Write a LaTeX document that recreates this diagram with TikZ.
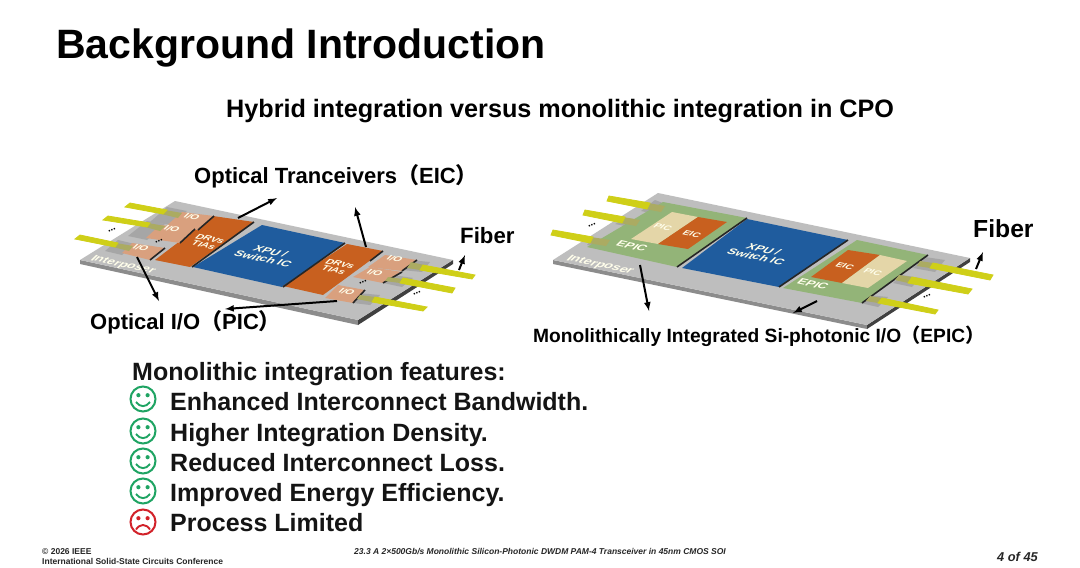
\documentclass[tikz,border=0pt]{standalone}
\usepackage{fontspec}
\setmainfont{Liberation Sans}
\newfontfamily\cjk{Noto Sans CJK SC}

\definecolor{plategray}{HTML}{BEBEBE}
\definecolor{platedark}{HTML}{8C8C8C}
\definecolor{blockgray}{HTML}{A6A6A6}
\definecolor{xpublue}{HTML}{1F5C9E}
\definecolor{drvorange}{HTML}{C8601F}
\definecolor{ioorange}{HTML}{D9A07E}
\definecolor{fiberyellow}{HTML}{CFCF18}
\definecolor{ferruleolive}{HTML}{ABAB62}
\definecolor{epicgreen}{HTML}{93B478}
\definecolor{picbeige}{HTML}{E4D6A8}
\definecolor{smilegreen}{HTML}{1FA463}
\definecolor{sadred}{HTML}{D2222A}

\begin{document}
\begin{tikzpicture}[>=latex,x=1pt,y=-1pt]

% --- Styles ---
\tikzset{
    plate/.style={fill=plategray},
    plateside/.style={fill=platedark},
    platefront/.style={fill=black!75},
    xpuchip/.style={fill=xpublue},
    drvchip/.style={fill=drvorange},
    iochip/.style={fill=ioorange},
    epicchip/.style={fill=epicgreen},
    picchip/.style={fill=picbeige},
    fiberstrip/.style={fill=fiberyellow, draw=fiberyellow, line width=0.8pt},
    ferrule/.style={fill=ferruleolive},
    feblock/.style={fill=blockgray},
    chipedge/.style={draw=black!85, line width=1.6pt},
    chiplabel/.style={cm={0.98,-0.21,0.62,0.6,(0,0)}, text=white!92!yellow, font=\bfseries\fontsize{#1}{#1}\selectfont, align=center, inner sep=0pt},
    chiplabel/.default=9,
    callout/.style={font=\bfseries\fontsize{#1}{#1}\selectfont, anchor=base west, inner sep=0pt, text=black},
    moredots/.style={font=\bfseries\fontsize{10}{10}\selectfont, rotate=28, inner sep=0pt, text=black},
    arrow/.style={->, >=latex, line width=2pt, draw=black},
    feature/.style={font=\bfseries\fontsize{25}{25}\selectfont, anchor=base west, inner sep=0pt, text=black!92},
    footnote/.style={font=\bfseries\fontsize{8.5}{8.5}\selectfont, anchor=base west, inner sep=0pt, text=black!85},
    face/.style={circle, draw=#1, line width=2pt, minimum size=25pt, inner sep=0pt},
    pics/smile/.style={code={
        \fill[#1] (-4.6,-3.8) circle (2.1pt) (4.6,-3.8) circle (2.1pt);
        \draw[#1, line width=1.9pt] (-7,3) .. controls (-3,8.5) and (3,8.5) .. (7,3);
    }},
    pics/frown/.style={code={
        \fill[#1] (-4.6,-3.8) circle (2.1pt) (4.6,-3.8) circle (2.1pt);
        \draw[#1, line width=1.9pt] (-7,7.5) .. controls (-3,1.5) and (3,1.5) .. (7,7.5);
    }}
}

\useasboundingbox (0,0) rectangle (1080,568);
\fill[white] (0,0) rectangle (1080,568);

% --- Titles ---
\node[callout=41] (title) at (56,58) {Background Introduction};
\node[callout=25.2] (subtitle) at (226,117) {Hybrid integration versus monolithic integration in CPO};

% --- Left package, plate ---
\path[plateside] (80,260) -- (358,320) -- (358,325) -- (80,264) -- cycle;
\path[platefront] (358,320) -- (453,260) -- (453,264) -- (358,325) -- cycle;
\path[plate] (175,201) -- (453,260) -- (358,320) -- (80,260) -- cycle;

% Blocks at the fiber ends
\path[feblock] (167,207) -- (187,211) -- (172,225) -- (150,222) -- cycle;
\path[feblock] (147,221) -- (165,224) -- (147,240) -- (128,236) -- cycle;
\path[feblock] (118,240) -- (135,244) -- (122,255) -- (105,251) -- cycle;
\path[feblock] (410,260) -- (430,262) -- (422,272) -- (402,270) -- cycle;
\path[feblock] (393,275) -- (413,278) -- (402,287) -- (383,283) -- cycle;
\path[feblock] (358,293) -- (380,295) -- (370,305) -- (353,303) -- cycle;

% Chips
\path[xpuchip] (262,225) -- (345,243) -- (282,287) -- (193,267) -- cycle;
\path[drvchip] (213,216) -- (254,222) -- (190,267) -- (155,260) -- cycle;
\path[drvchip] (347,244) -- (383,251) -- (323,295) -- (283,286) -- cycle;
\path[iochip] (182,212) -- (214,216) -- (198,230) -- (165,227) -- cycle;
\path[iochip] (160,225) -- (195,229) -- (180,243) -- (146,238) -- cycle;
\path[iochip] (132,243) -- (165,248) -- (150,260) -- (122,253) -- cycle;
\path[iochip] (385,255) -- (417,260) -- (402,271) -- (368,267) -- cycle;
\path[iochip] (370,267) -- (402,272) -- (383,283) -- (353,277) -- cycle;
\path[iochip] (338,285) -- (365,290) -- (353,303) -- (325,298) -- cycle;

% Dark chip edges
\draw[chipedge] (254,222) -- (192,267);
\draw[chipedge] (345,243) -- (283,287);
\draw[chipedge] (214,216) -- (198,230);
\draw[chipedge] (195,229) -- (180,243);
\draw[chipedge] (165,248) -- (150,260);
\draw[chipedge] (383,251) -- (370,261);
\draw[chipedge] (417,260) -- (402,271);
\draw[chipedge] (402,272) -- (383,283);
\draw[chipedge] (365,290) -- (353,303);

% Fibers
\path[ferrule] (165,210) -- (182,213) -- (178,218) -- (161,214) -- cycle;
\path[ferrule] (148,223) -- (165,226) -- (160,231) -- (145,227) -- cycle;
\path[ferrule] (116,243) -- (133,246) -- (129,251) -- (113,247) -- cycle;
\path[ferrule] (411,262) -- (424,265) -- (420,270) -- (407,268) -- cycle;
\path[ferrule] (388,277) -- (403,279) -- (400,283) -- (385,281) -- cycle;
\path[ferrule] (360,295) -- (375,297) -- (372,302) -- (357,299) -- cycle;
\path[fiberstrip] (130,203) -- (167,210) -- (163,214) -- (125,207) -- cycle;
\path[fiberstrip] (108,216) -- (150,223) -- (147,227) -- (103,220) -- cycle;
\path[fiberstrip] (80,235) -- (118,243) -- (115,247) -- (75,239) -- cycle;
\path[fiberstrip] (423,265) -- (475,275) -- (472,279) -- (420,270) -- cycle;
\path[fiberstrip] (403,278) -- (455,288) -- (452,293) -- (400,283) -- cycle;
\path[fiberstrip] (375,297) -- (427,307) -- (423,311) -- (372,302) -- cycle;

% Chip labels
\node[chiplabel=10.5] (ioa) at (192,217) {I/O};
\node[chiplabel=10.5] (iob) at (172,229) {I/O};
\node[chiplabel=10.5] (ioc) at (141,248) {I/O};
\node[chiplabel=10.5] (iod) at (395,259) {I/O};
\node[chiplabel=10.5] (ioe) at (375,273) {I/O};
\node[chiplabel=10.5] (iof) at (347,292) {I/O};
\node[chiplabel=10.5] (drva) at (207,242) {DRVs\\TIAs};
\node[chiplabel=10.5] (drvb) at (337,267) {DRVs\\TIAs};
\node[chiplabel=12.5] (xpua) at (267,255) {XPU /\\Switch IC};
\node[chiplabel=13] (intera) at (123,265) {Interposer};

% Dots
\node[moredots] (dotsa) at (112,230) {...};
\node[moredots] (dotsb) at (159,241) {...};
\node[moredots] (dotsc) at (363,282) {...};
\node[moredots] (dotsd) at (417,293) {...};

% --- Right package, plate ---
\path[plateside] (553,260) -- (867,325) -- (867,329) -- (553,264) -- cycle;
\path[platefront] (867,325) -- (970,258) -- (970,262) -- (867,329) -- cycle;
\path[plate] (658,193) -- (970,258) -- (867,325) -- (553,260) -- cycle;

% Blocks at the fiber ends
\path[feblock] (655,200) -- (668,205) -- (655,214) -- (641,211) -- cycle;
\path[feblock] (627,218) -- (640,220) -- (630,227) -- (615,224) -- cycle;
\path[feblock] (593,238) -- (612,240) -- (605,248) -- (587,245) -- cycle;
\path[feblock] (925,257) -- (945,260) -- (935,272) -- (913,268) -- cycle;
\path[feblock] (902,275) -- (920,278) -- (912,287) -- (893,283) -- cycle;
\path[feblock] (868,295) -- (888,297) -- (878,307) -- (860,303) -- cycle;

% Chips
\path[xpuchip] (747,219) -- (848,240) -- (779,287) -- (682,268) -- cycle;
\path[epicchip] (663,202) -- (747,218) -- (677,267) -- (587,247) -- cycle;
\path[epicchip] (857,240) -- (928,255) -- (862,303) -- (783,288) -- cycle;
\path[picchip] (672,212) -- (698,217) -- (658,244) -- (631,239) -- cycle;
\path[drvchip] (698,217) -- (727,222) -- (688,249) -- (658,244) -- cycle;
\path[drvchip] (848,250) -- (880,255) -- (842,283) -- (811,277) -- cycle;
\path[picchip] (880,255) -- (907,261) -- (868,288) -- (842,283) -- cycle;

% Dark chip edges
\draw[chipedge] (747,218) -- (677,267);
\draw[chipedge] (848,240) -- (779,287);
\draw[chipedge] (928,255) -- (862,303);

% Fibers
\path[ferrule] (648,203) -- (665,206) -- (661,212) -- (645,209) -- cycle;
\path[ferrule] (623,217) -- (640,220) -- (636,226) -- (620,223) -- cycle;
\path[ferrule] (591,237) -- (610,240) -- (606,246) -- (588,243) -- cycle;
\path[ferrule] (920,261) -- (933,263) -- (930,268) -- (917,266) -- cycle;
\path[ferrule] (899,275) -- (912,277) -- (908,283) -- (895,280) -- cycle;
\path[ferrule] (870,296) -- (882,298) -- (878,303) -- (866,301) -- cycle;
\path[fiberstrip] (609,196) -- (650,203) -- (647,209) -- (607,201) -- cycle;
\path[fiberstrip] (585,210) -- (625,217) -- (622,223) -- (583,215) -- cycle;
\path[fiberstrip] (553,230) -- (593,237) -- (590,243) -- (551,235) -- cycle;
\path[fiberstrip] (933,263) -- (993,275) -- (990,280) -- (930,268) -- cycle;
\path[fiberstrip] (912,277) -- (972,289) -- (968,294) -- (908,283) -- cycle;
\path[fiberstrip] (882,298) -- (938,310) -- (935,314) -- (878,303) -- cycle;

% Chip labels
\node[chiplabel=10] (pica) at (663,227) {PIC};
\node[chiplabel=10] (eica) at (692,234) {EIC};
\node[chiplabel=12.5] (epica) at (632,246) {EPIC};
\node[chiplabel=13.5] (interb) at (600,265) {Interposer};
\node[chiplabel=12.5] (xpub) at (760,253) {XPU /\\Switch IC};
\node[chiplabel=10] (eicb) at (845,266) {EIC};
\node[chiplabel=10] (picb) at (873,272) {PIC};
\node[chiplabel=12.5] (epicb) at (813,284) {EPIC};

% Dots
\node[moredots] (dotse) at (592,225) {...};
\node[moredots] (dotsf) at (927,296) {...};

% --- Callouts ---
\node[callout=22] (tranlabel) at (194,183) {Optical Tranceivers{\cjk （}EIC{\cjk ）}};
\node[callout=22] (opticlabel) at (90,329) {Optical I/O{\cjk （}PIC{\cjk ）}};
\node[callout=22.2] (fibera) at (460,243) {Fiber};
\node[callout=24.7] (fiberb) at (973,237) {Fiber};
\node[callout=19.2] (epiclabel) at (533,342) {Monolithically Integrated Si-photonic I/O{\cjk （}EPIC{\cjk ）}};

% --- Arrow ends ---
\coordinate (tailA) at (238,218);
\coordinate (headA) at (277,198);
\coordinate (tailB) at (366,247);
\coordinate (headB) at (355,207);
\coordinate (tailC) at (137,257);
\coordinate (headC) at (159,301);
\coordinate (tailD) at (337,301);
\coordinate (headD) at (225,309);
\coordinate (tailE) at (459,270);
\coordinate (headE) at (465,255);
\coordinate (tailF) at (640,265);
\coordinate (headF) at (649,311);
\coordinate (tailG) at (817,301);
\coordinate (headG) at (793,313);
\coordinate (tailH) at (976,269);
\coordinate (headH) at (983,252);

\draw[arrow] (tailA) -- (headA);
\draw[arrow] (tailB) -- (headB);
\draw[arrow] (tailC) -- (headC);
\draw[arrow] (tailD) -- (headD);
\draw[arrow] (tailE) -- (headE);
\draw[arrow] (tailF) -- (headF);
\draw[arrow] (tailG) -- (headG);
\draw[arrow] (tailH) -- (headH);

% --- Feature list ---
\node[feature] (feathead) at (132,380) {Monolithic integration features:};
\node[feature] (feata) at (170,410) {Enhanced Interconnect Bandwidth.};
\node[feature] (featb) at (170,441) {Higher Integration Density.};
\node[feature] (featc) at (170,471) {Reduced Interconnect Loss.};
\node[feature] (featd) at (170,501) {Improved Energy Efficiency.};
\node[feature] (feate) at (170,531) {Process Limited};

\node[face=smilegreen] (facea) at (143,399) {};
\node[face=smilegreen] (faceb) at (143,431) {};
\node[face=smilegreen] (facec) at (143,461) {};
\node[face=smilegreen] (faced) at (143,491) {};
\node[face=sadred] (facee) at (143,522) {};
\pic at (facea) {smile=smilegreen};
\pic at (faceb) {smile=smilegreen};
\pic at (facec) {smile=smilegreen};
\pic at (faced) {smile=smilegreen};
\pic at (facee) {frown=sadred};

% --- Footer ---
\node[footnote] (copyr) at (42,554) {© 2026 IEEE};
\node[footnote] (conf) at (42,564) {International Solid-State Circuits Conference};
\node[footnote, font=\bfseries\itshape\fontsize{8.5}{8.5}\selectfont] (talk) at (354,554) {23.3 A 2×500Gb/s Monolithic Silicon-Photonic DWDM PAM-4 Transceiver in 45nm CMOS SOI};
\node[footnote, font=\bfseries\itshape\fontsize{12.8}{12.8}\selectfont] (pageno) at (997,561) {4 of 45};

\end{tikzpicture}
\end{document}
